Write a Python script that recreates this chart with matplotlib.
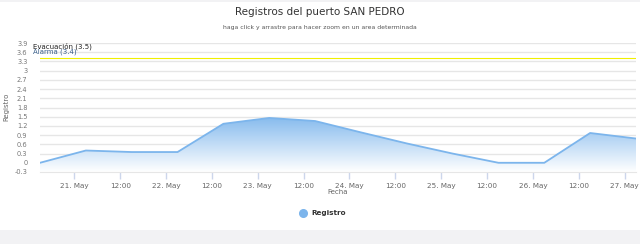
import numpy as np
import matplotlib
matplotlib.use("Agg")
import matplotlib.pyplot as plt
import matplotlib.dates as mdates
from matplotlib.colors import to_rgb
from matplotlib.patches import Rectangle
from matplotlib.lines import Line2D
import datetime as dt

# ---- data ----
times = ["2021-05-20 15:00", "2021-05-21 03:00", "2021-05-21 15:00", "2021-05-22 03:00",
         "2021-05-22 15:00", "2021-05-23 03:00", "2021-05-23 15:00", "2021-05-24 03:00",
         "2021-05-24 15:00", "2021-05-25 03:00", "2021-05-25 15:00", "2021-05-26 03:00",
         "2021-05-26 15:00", "2021-05-27 03:00"]
values = [0.0, 0.40, 0.35, 0.35, 1.27, 1.46, 1.36, 0.99, 0.63, 0.30, 0.0, 0.0, 0.97, 0.79]
y_ticks = [-0.3, 0, 0.3, 0.6, 0.9, 1.2, 1.5, 1.8, 2.1, 2.4, 2.7, 3, 3.3, 3.6, 3.9]
alarm_level = 3.4
evac_level = 3.5
title = "Registros del puerto SAN PEDRO"
subtitle = "haga click y arrastre para hacer zoom en un area determinada"
series_name = "Registro"
x_title = "Fecha"

plt.rcParams['font.family'] = ['DejaVu Sans']
W, H = 640, 244
fig = plt.figure(figsize=(W / 100, H / 100), dpi=100)
fig.patch.set_facecolor("white")

def fx(px):
    return px / W

def fy(py):
    return 1 - py / H

ax = fig.add_axes([fx(40), fy(172), fx(636) - fx(40), fy(43) - fy(172)])
tx = [dt.datetime.strptime(t, "%Y-%m-%d %H:%M") for t in times]
xn = mdates.date2num(tx)
vals = np.array(values)

ax.set_xlim(xn[0], xn[-1])
ax.set_ylim(y_ticks[0], y_ticks[-1])

color = "#7cb5ec"
# gradient fill (opaque, blended toward white)
poly = ax.fill_between(xn, vals, y_ticks[0], color="none", lw=0)
rgb = np.array(to_rgb(color))
ny = 256
a = np.linspace(0.0, 0.92, ny)[:, None, None]
grad = np.ones((ny, 2, 3)) * (1 - a) + rgb[None, None, :] * a
im = ax.imshow(grad, aspect="auto", origin="lower",
               extent=[xn[0], xn[-1], y_ticks[0], max(values)], zorder=2)
path = poly.get_paths()[0]
im.set_clip_path(path, transform=ax.transData)
ax.plot(xn, vals, color=color, lw=1.3, zorder=3)

# grid
ax.set_yticks(y_ticks)
ax.set_yticklabels([f"{v:g}" for v in y_ticks])
ax.yaxis.grid(True, color="#e6e6e6", lw=1)
ax.set_axisbelow(True)
ax.tick_params(axis="y", length=0, pad=9, labelsize=4.8, labelcolor="#777777")

# x ticks every 12h
start = dt.datetime(2021, 5, 21, 0, 0)
xt = [start + dt.timedelta(hours=12 * i) for i in range(13)]
ax.set_xticks(mdates.date2num(xt))
ax.set_xticklabels([f"{d.day}. May" if d.hour == 0 else "12:00" for d in xt])
ax.tick_params(axis="x", length=5, width=1, color="#ccd6eb", pad=3,
               labelsize=5.2, labelcolor="#666666")

for s in ["top", "right", "left"]:
    ax.spines[s].set_visible(False)
ax.spines["bottom"].set_color("#e6e6e6")
ax.spines["bottom"].set_linewidth(0.8)

# plot lines
ax.axhline(alarm_level, color="#f0f000", lw=0.8, zorder=3)
fig.text(fx(33), fy(46), f"Evacuación ({evac_level})", fontsize=5, color="#222222",
         va="center", ha="left")
fig.text(fx(33), fy(52), f"Alarma ({alarm_level})", fontsize=5, color="#3a5f8a",
         va="center", ha="left")

# titles
fig.text(0.5, fy(12), title, fontsize=7.5, color="#333333", ha="center", va="center")
fig.text(0.5, fy(28), subtitle, fontsize=4.4, color="#555555", ha="center", va="center")
fig.text(fx(338), fy(192), x_title, fontsize=5, color="#666666", ha="center", va="center")
fig.text(fx(6), fy(107), series_name, fontsize=5, color="#666666", ha="center",
         va="center", rotation=90)

# legend
fig.add_artist(Line2D([fx(303)], [fy(213)], marker="o", markersize=5.5, color=color,
                      transform=fig.transFigure, linestyle="none"))
fig.text(fx(311), fy(213), series_name, fontsize=5.2, color="#333333", fontweight="bold",
         ha="left", va="center")

# bottom band
fig.add_artist(Rectangle((0, 0), 1, 14 / H, transform=fig.transFigure,
                         facecolor="#f2f2f4", edgecolor="none"))
fig.add_artist(Rectangle((0, 1 - 2 / H), 1, 2 / H, transform=fig.transFigure,
                         facecolor="#f2f2f4", edgecolor="none"))

fig.savefig("out.png", dpi=100)
